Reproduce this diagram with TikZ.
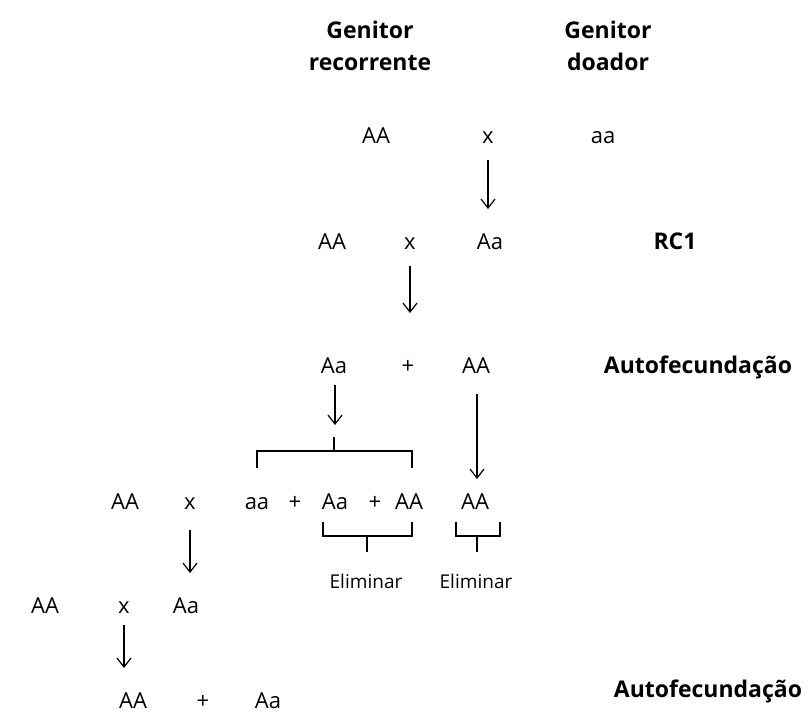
\documentclass[tikz,border=0pt]{standalone}
\usepackage{fontspec}
\setmainfont{Open Sans}
\usetikzlibrary{arrows.meta}
\begin{document}
\begin{tikzpicture}[x=1pt,y=-1pt,
  gen/.style={font=\fontsize{22}{26}\selectfont, inner sep=0pt, anchor=base},
  lbl/.style={font=\fontsize{23}{32}\selectfont\bfseries, inner sep=0pt, align=center},
  elim/.style={font=\fontsize{19}{22}\selectfont, inner sep=0pt, anchor=base},
  arr/.style={line width=1.2pt, -{Straight Barb[length=9pt,width=14pt,line width=1.2pt]}},
  brk/.style={line width=1.2pt}]
\useasboundingbox (0,0) rectangle (808,724);
% header
\node[lbl] (gr) at (370,46) {Genitor\\recorrente};
\node[lbl] (gd) at (608,46) {Genitor\\doador};
% row 1
\node[gen] (r1a) at (376,143) {AA};
\node[gen] (r1x) at (488,143) {x};
\node[gen] (r1b) at (603,143) {aa};
% row 2
\node[gen] (r2a) at (332,249) {AA};
\node[gen] (r2x) at (410,249) {x};
\node[gen] (r2b) at (490,249) {Aa};
\node[lbl, anchor=base] (rc1) at (675,249) {RC1};
% row 3
\node[gen] (r3a) at (334,373) {Aa};
\node[gen] (r3p) at (408,373) {+};
\node[gen] (r3b) at (476,373) {AA};
\node[lbl, anchor=base] (auto1) at (698,373) {Autofecundação};
% row 4
\node[gen] (r4a) at (125,509) {AA};
\node[gen] (r4x) at (190,509) {x};
\node[gen] (r4b) at (257,509) {aa};
\node[gen] (r4p1) at (295,509) {+};
\node[gen] (r4c) at (335,509) {Aa};
\node[gen] (r4p2) at (375,509) {+};
\node[gen] (r4d) at (409,509) {AA};
\node[gen] (r4e) at (475,509) {AA};
% eliminar
\node[elim] (el1) at (366,588) {Eliminar};
\node[elim] (el2) at (476,588) {Eliminar};
% row 5
\node[gen] (r5a) at (45,613) {AA};
\node[gen] (r5x) at (124,613) {x};
\node[gen] (r5b) at (186,613) {Aa};
% row 6
\node[gen] (r6a) at (133,708) {AA};
\node[gen] (r6p) at (203,708) {+};
\node[gen] (r6b) at (268,708) {Aa};
\node[lbl, anchor=base] (auto2) at (708,697) {Autofecundação};
% arrows
\coordinate (a1s) at (488,160); \coordinate (a1e) at (488,209);
\draw[arr] (a1s) -- (a1e);
\coordinate (a2s) at (410,266); \coordinate (a2e) at (410,313);
\draw[arr] (a2s) -- (a2e);
\coordinate (a3s) at (335,385); \coordinate (a3e) at (335,425);
\draw[arr] (a3s) -- (a3e);
\coordinate (a4s) at (477,394); \coordinate (a4e) at (477,479);
\draw[arr] (a4s) -- (a4e);
\coordinate (a5s) at (190,530); \coordinate (a5e) at (190,573);
\draw[arr] (a5s) -- (a5e);
\coordinate (a6s) at (124,625); \coordinate (a6e) at (124,668);
\draw[arr] (a6s) -- (a6e);
% brackets
\draw[brk] (257,468) -- (257,451) -- (412,451) -- (412,468);
\draw[brk] (334,437) -- (334,451);
\draw[brk] (323,522) -- (323,536) -- (412,536) -- (412,522);
\draw[brk] (367,536) -- (367,552);
\draw[brk] (456,522) -- (456,536) -- (500,536) -- (500,522);
\draw[brk] (477,536) -- (477,552);
\end{tikzpicture}
\end{document}
